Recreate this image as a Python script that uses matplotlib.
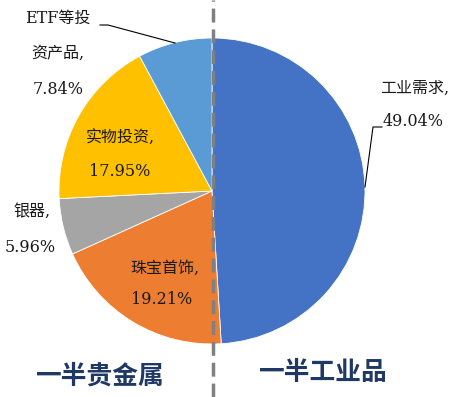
import matplotlib.pyplot as plt

# data
labels = ['工业需求', '珠宝首饰', '银器', '实物投资', 'ETF等投资产品']
shares = [49.04, 19.21, 5.96, 17.95, 7.84]
colors = ['#4472C4', '#ED7D31', '#A5A5A5', '#FFC000', '#5B9BD5']

W, H = 463, 397
fig = plt.figure(figsize=(W / 100, H / 100), dpi=100)
ax = fig.add_axes([0, 0, 1, 1])

cx, cy, r = 212, H - 191, 153
ax.pie(shares, colors=colors, startangle=90, counterclock=False,
       center=(cx, cy), radius=r, frame=True,
       wedgeprops=dict(edgecolor='white', linewidth=0.6))
ax.set_xlim(0, W)
ax.set_ylim(0, H)
ax.set_aspect('equal')
ax.axis('off')

# dashed divider
ax.plot([213, 213], [0, H], color='#808080', lw=2.5, ls=(0, (4, 2)), zorder=5)

lab_font = dict(family=['DejaVu Serif', 'Noto Sans CJK SC'], fontsize=11.5, color='#1a1a1a')

def put(x, y, s, **kw):
    ax.text(x, H - y, s, ha='center', va='center', **lab_font, **kw)

# labels (pixel positions)
put(58, 18, 'ETF等投')
put(58, 53, '资产品,')
put(58, 90, '7.84%')
put(120, 138, '实物投资,')
put(120, 172, '17.95%')
put(32, 211, '银器,')
put(30, 248, '5.96%')
put(165, 268, '珠宝首饰,')
put(162, 300, '19.21%')
put(415, 88, '工业需求,')
put(413, 122, '49.04%')

# leader lines
ax.plot([100, 108, 175], [H - 25, H - 25, H - 43], color='black', lw=0.8)
ax.plot([365, 373, 382], [H - 187, H - 127, H - 127], color='black', lw=0.8)

big = dict(family=['Noto Sans CJK SC'], fontsize=18.5, fontweight='bold', color='#1F3864',
           ha='center', va='center')
ax.text(99, H - 376, '一半贵金属', **big)
ax.text(322, H - 372, '一半工业品', **big)

fig.savefig('out.png', dpi=100)
